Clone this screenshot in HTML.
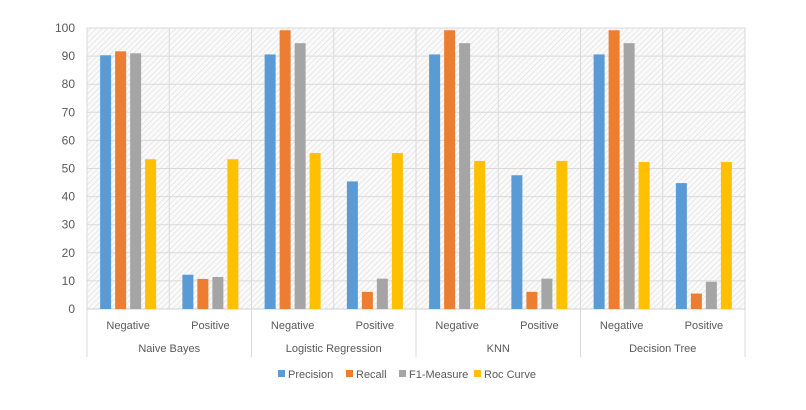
<!DOCTYPE html>
<html><head><meta charset="utf-8"><style>
body{margin:0;background:#fff;font-family:"Liberation Sans",sans-serif;}
svg text{font-family:"Liberation Sans",sans-serif;fill:#595959;}
</style></head><body>
<svg id="chart" width="806" height="405" xmlns="http://www.w3.org/2000/svg">
<defs><pattern id="hatch" width="4" height="4" patternUnits="userSpaceOnUse" patternTransform="rotate(45)">
<rect width="4" height="4" fill="#fafafa"/><line x1="0" y1="0" x2="0" y2="4" stroke="#dcdcdc" stroke-width="1.2"/></pattern></defs>
<rect x="87" y="28" width="658" height="281" fill="url(#hatch)"/>
<g id="grid"></g><g id="bars"></g><g id="axis"></g><g id="legend"></g>
</svg>
<script>
const models=["Naive Bayes","Logistic Regression","KNN","Decision Tree"];
const classes=["Negative","Positive"];
const seriesNames=["Precision","Recall","F1-Measure","Roc Curve"];
const colors=["#5b9bd5","#ed7d31","#a5a5a5","#ffc000"];
const precision=[90.3,12.2,90.6,45.4,90.6,47.6,90.6,44.8];
const recall=[91.7,10.7,99.2,6.1,99.2,6.1,99.2,5.5];
const f1=[91,11.4,94.6,10.8,94.6,10.8,94.6,9.7];
const roc=[53.3,53.3,55.5,55.5,52.7,52.7,52.3,52.3];
const yTicks=[0,10,20,30,40,50,60,70,80,90,100];
const series=[precision,recall,f1,roc];
const NS="http://www.w3.org/2000/svg";
const X0=87,X1=745,Y0=309,Y1=28;
const nCat=models.length*classes.length, cw=(X1-X0)/nCat;
const y=v=>Y0-(v/100)*(Y0-Y1);
const x=i=>X0+cw*i;
function mk(t,a,p){const e=document.createElementNS(NS,t);for(const k in a)e.setAttribute(k,a[k]);p.appendChild(e);return e;}
const grid=document.getElementById('grid'),bars=document.getElementById('bars'),axis=document.getElementById('axis'),legend=document.getElementById('legend');
yTicks.forEach(t=>{
 const l=mk('line',{x1:X0,x2:X1,y1:y(t),y2:y(t),stroke:t===0?'#d0d0d0':'#d9d9d9'},grid);
 
 
 const tx=mk('text',{x:X0-12,y:y(t)+4,'text-anchor':'end','font-size':12},axis);tx.textContent=t;
 
 
});
for(let i=0;i<=nCat;i++){
 const major=i%classes.length===0;
 const l=mk('line',{x1:x(i),x2:x(i),y1:Y1,y2:major?357:Y0,stroke:'#d9d9d9'},grid);
 
 
}
for(let c=0;c<nCat;c++){
 const cx=x(c)+cw/2;
 series.forEach((s,si)=>{
  const bx=cx+(si-1.5)*15-5.5;
  const r=mk('rect',{x:bx,y:y(s[c]),width:11,height:Y0-y(s[c]),fill:colors[si]},bars);
  
  
 });
 const t=mk('text',{x:cx,y:329,'text-anchor':'middle','font-size':11},axis);t.textContent=classes[c%classes.length];
 
 
}
models.forEach((m,i)=>{
 const t=mk('text',{x:x(i*2)+cw,y:352,'text-anchor':'middle','font-size':11},axis);t.textContent=m;
 
 
});
const lx=[278,346,399,474];
seriesNames.forEach((n,i)=>{
 const g=mk('g',{},legend);
 
 
 mk('rect',{x:lx[i],y:370,width:7,height:7,fill:colors[i]},g);
 const t=mk('text',{x:lx[i]+10,y:378,'font-size':11},g);t.textContent=n;
});
</script>
</body></html>
